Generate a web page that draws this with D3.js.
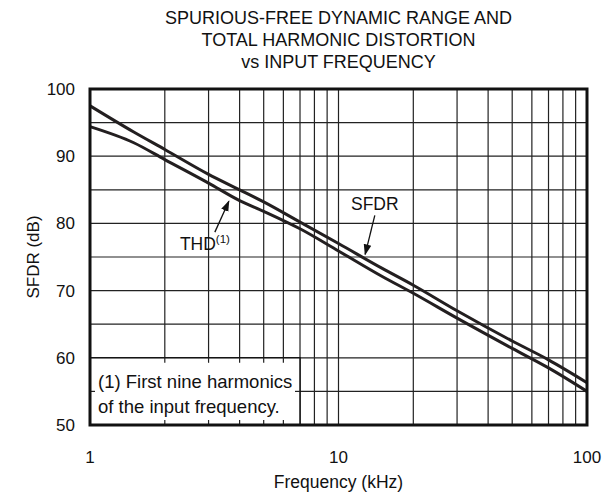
<!DOCTYPE html>
<html>
<head>
<meta charset="utf-8">
<script src="https://cdn.jsdelivr.net/npm/d3@7"></script>
<style>
  body { margin: 0; background: #fff; }
  svg text { font-family: "Liberation Sans", Arial, sans-serif; fill: #111; }
</style>
</head>
<body>
<div id="chart"></div>
<script>
"use strict";

// data
var freqs = [1, 1.5, 2, 3, 4, 5, 7, 10, 15, 20, 30, 50, 70, 100];
var sfdr = [97.5, 93.6, 91.0, 87.3, 85.0, 83.2, 80.2, 77.0, 73.3, 70.8, 67.0, 62.5, 59.7, 56.3];
var thd = [94.4, 92.0, 89.5, 86.0, 83.4, 81.8, 79.2, 75.9, 72.1, 69.6, 65.9, 61.4, 58.5, 55.0];
var xTickLabels = [1, 10, 100];
var yTickLabels = [50, 60, 70, 80, 90, 100];
var titleLines = ["SPURIOUS-FREE DYNAMIC RANGE AND", "TOTAL HARMONIC DISTORTION", "vs INPUT FREQUENCY"];
var noteLines = ["(1) First nine harmonics", "of the input frequency."];

var width = 613, height = 502;
var margin = { top: 89, right: 26, bottom: 77, left: 90 };
var w = width - margin.left - margin.right;
var h = height - margin.top - margin.bottom;

var svg = d3.select("#chart").append("svg")
    .attr("width", width)
    .attr("height", height);

svg.append("defs").append("marker")
    .attr("id", "arrow")
    .attr("viewBox", "0 0 10 10")
    .attr("refX", 9).attr("refY", 5)
    .attr("markerWidth", 11).attr("markerHeight", 11)
    .attr("markerUnits", "userSpaceOnUse")
    .attr("orient", "auto")
    .append("path")
    .attr("d", "M0,1.5 L10,5 L0,8.5 Z")
    .attr("fill", "#111");

var x = d3.scaleLog().domain([1, 100]).range([0, w]);
var y = d3.scaleLinear().domain([50, 100]).range([h, 0]);

var g = svg.append("g")
    .attr("transform", "translate(" + margin.left + "," + margin.top + ")");

// vertical grid (log minors)
var xGrid = [];
[1, 10].forEach(function (dec) {
    for (var k = 2; k <= 9; k++) { xGrid.push(dec * k); }
});
xGrid.push(10);
g.selectAll(".vgrid").data(xGrid).enter().append("line")
    .attr("x1", function (d) { return x(d); })
    .attr("x2", function (d) { return x(d); })
    .attr("y1", 0).attr("y2", h)
    .attr("stroke", "#222").attr("stroke-width", 1.2);

// horizontal grid every 5 dB
g.selectAll(".hgrid").data(d3.range(55, 100, 5)).enter().append("line")
    .attr("x1", 0).attr("x2", w)
    .attr("y1", function (d) { return y(d); })
    .attr("y2", function (d) { return y(d); })
    .attr("stroke", "#222").attr("stroke-width", 1.2);

// note box over the bottom-left grid
var boxR = x(7), boxT = y(60);
g.append("rect")
    .attr("x", 0).attr("y", boxT)
    .attr("width", boxR).attr("height", h - boxT)
    .attr("fill", "#fff")
    .attr("stroke", "#111").attr("stroke-width", 1.5);

var tick = 5;
[2, 3, 4, 5, 6].forEach(function (f) {
    g.append("line").attr("x1", x(f)).attr("x2", x(f))
        .attr("y1", boxT).attr("y2", boxT + tick)
        .attr("stroke", "#222").attr("stroke-width", 1.2);
    g.append("line").attr("x1", x(f)).attr("x2", x(f))
        .attr("y1", h - tick).attr("y2", h)
        .attr("stroke", "#222").attr("stroke-width", 1.2);
});
g.append("line").attr("x1", 0).attr("x2", tick)
    .attr("y1", y(55)).attr("y2", y(55))
    .attr("stroke", "#222").attr("stroke-width", 1.2);
g.append("line").attr("x1", boxR - tick).attr("x2", boxR)
    .attr("y1", y(55)).attr("y2", y(55))
    .attr("stroke", "#222").attr("stroke-width", 1.2);

g.selectAll(".note").data(noteLines).enter().append("text")
    .attr("x", 8)
    .attr("y", function (d, i) { return boxT + 30 + i * 25; })
    .attr("font-size", 18.5)
    .text(function (d) { return d; });

// curves
var line = d3.line()
    .x(function (d) { return x(d[0]); })
    .y(function (d) { return y(d[1]); })
    .curve(d3.curveMonotoneX);

[sfdr, thd].forEach(function (vals) {
    g.append("path")
        .datum(d3.zip(freqs, vals))
        .attr("d", line)
        .attr("fill", "none")
        .attr("stroke", "#231f20")
        .attr("stroke-width", 3);
});

// frame
g.append("rect")
    .attr("x", 0).attr("y", 0)
    .attr("width", w).attr("height", h)
    .attr("fill", "none")
    .attr("stroke", "#111").attr("stroke-width", 3);

// axes labels
g.selectAll(".ylab").data(yTickLabels).enter().append("text")
    .attr("x", -15)
    .attr("y", function (d) { return y(d); })
    .attr("dy", "0.35em")
    .attr("text-anchor", "end")
    .attr("font-size", 17)
    .text(function (d) { return d; });

g.selectAll(".xlab").data(xTickLabels).enter().append("text")
    .attr("x", function (d) { return x(d); })
    .attr("y", h + 38)
    .attr("text-anchor", "middle")
    .attr("font-size", 17)
    .text(function (d) { return d; });

g.append("text")
    .attr("x", w / 2).attr("y", h + 63)
    .attr("text-anchor", "middle")
    .attr("font-size", 17.5)
    .text("Frequency (kHz)");

g.append("text")
    .attr("transform", "translate(-51," + (h / 2) + ") rotate(-90)")
    .attr("text-anchor", "middle")
    .attr("font-size", 17)
    .text("SFDR (dB)");

// title
svg.selectAll(".title").data(titleLines).enter().append("text")
    .attr("x", margin.left + w / 2)
    .attr("y", function (d, i) { return 24 + i * 22; })
    .attr("text-anchor", "middle")
    .attr("font-size", 18)
    .text(function (d) { return d; });

// annotations
g.append("text")
    .attr("x", x(14.0)).attr("y", y(82.0))
    .attr("text-anchor", "middle")
    .attr("font-size", 17.5)
    .text("SFDR");
g.append("line")
    .attr("x1", x(14.0)).attr("y1", y(81.2))
    .attr("x2", x(12.8)).attr("y2", y(75.4))
    .attr("stroke", "#111").attr("stroke-width", 1.3)
    .attr("marker-end", "url(#arrow)");

var thdLabel = g.append("text")
    .attr("x", x(2.3)).attr("y", y(76.0))
    .attr("font-size", 17.5);
thdLabel.append("tspan").text("THD");
thdLabel.append("tspan").attr("font-size", 11.5).attr("dy", -7).text("(1)");
g.append("line")
    .attr("x1", x(3.18)).attr("y1", y(78.7))
    .attr("x2", x(3.62)).attr("y2", y(83.3))
    .attr("stroke", "#111").attr("stroke-width", 1.3)
    .attr("marker-end", "url(#arrow)");
</script>
</body>
</html>
